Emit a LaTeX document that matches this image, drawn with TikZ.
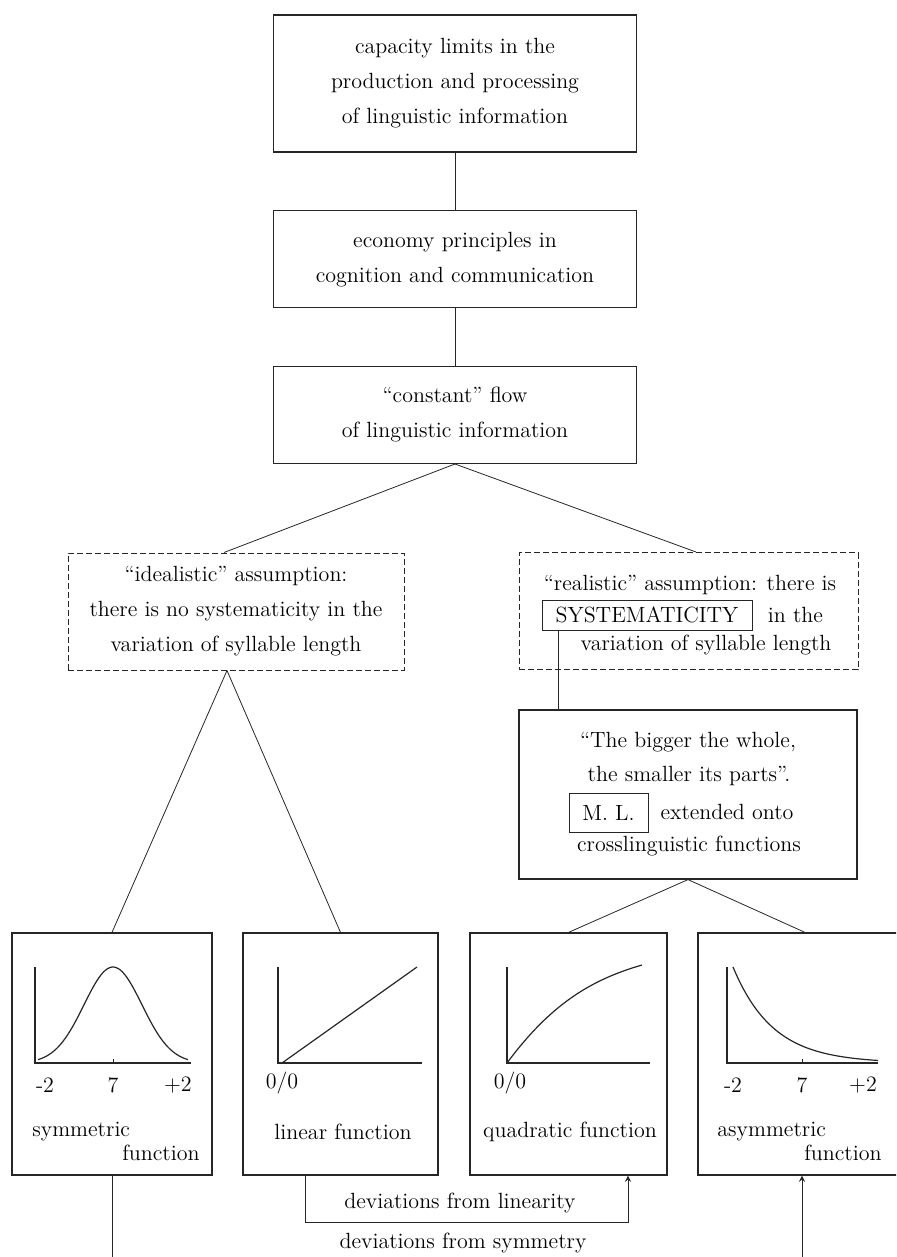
\documentclass[tikz,border=0pt]{standalone}
\usepackage{tikz}
\usetikzlibrary{positioning}
\def\boxfont{\fontsize{11}{17.5}\selectfont}

\begin{document}
\begin{tikzpicture}[x=0.5pt,y=-0.5pt,draw=black!85,>=stealth,node distance=28.75pt]
    \tikzstyle{every node}=[font=\boxfont]
    \tikzstyle{stage}=[draw, rectangle, align=center, minimum width=181.5pt, line width=0.6pt, inner sep=0pt]
    \tikzstyle{assumption}=[stage, dash pattern=on 3pt off 1.5pt, line width=0.5pt, minimum width=168pt, minimum height=58.5pt]
    \tikzstyle{plot box}=[draw, rectangle, minimum width=98pt, minimum height=121pt, line width=0.6pt]
    \tikzstyle{tag}=[draw, rectangle, inner sep=0pt, line width=0.5pt]
    \tikzstyle{curve}=[line width=0.6pt]

    \useasboundingbox (0,0) rectangle (896,1257);
    \clip (0,0) rectangle (896,1257);

    % Draw the chain of boxes on top
    \node[stage, minimum height=68.5pt] (capacity) at (455,83.5) {capacity limits in the\\production and processing\\of linguistic information};
    \node[stage, minimum height=48.5pt, below=of capacity] (economy) {economy principles in\\cognition and communication};
    \node[stage, minimum height=48.5pt, below=of economy] (flow) {``constant'' flow\\of linguistic information};

    % Draw the two assumptions
    \node[assumption] (ideal) at (236,611.5) {``idealistic'' assumption:\\there is no systematicity in the\\variation of syllable length};
    \node[assumption, minimum width=169.5pt] (real) at (688.5,611) {};
    \node (real-1) at (690,585) {``realistic'' assumption: there is};
    \node[tag, minimum width=105pt, minimum height=15pt] (syst) at (647,615) {SYSTEMATICITY};
    \node (real-2) at (795.5,615) {in the};
    \node (real-3) at (706,645) {variation of syllable length};

    % Draw the principle box
    \node[stage, minimum width=169pt, minimum height=84.5pt] (principle) at (688,794.5) {};
    \node (principle-1) at (688,742) {``The bigger the whole,};
    \node (principle-2) at (689,776) {the smaller its parts''.};
    \node[tag, minimum width=39.5pt, minimum height=19.5pt] (ml) at (608.5,812.5) {M.~L.};
    \node (principle-3) at (727,812) {extended onto};
    \node (principle-4) at (689,846) {crosslinguistic functions};

    % Draw the four function boxes
    \node[plot box, minimum width=100pt] (symm) at (112,1054) {};
    \node[plot box, minimum width=97.5pt] (lin) at (340.5,1054) {};
    \node[plot box, minimum width=98.5pt] (quad) at (568.5,1054) {};
    \node[plot box, minimum width=100pt] (asym) at (798,1054) {};

    % symmetric
    \draw[curve] (35,967) -- (35,1063) -- (191,1063);
    \draw[curve] plot[domain=38:188, samples=70, smooth] (\x, {1063-96*exp(-((\x-113)/41)*((\x-113)/41))});
    \draw (113,1063) -- (113,1059);
    \node (symm-a) at (45,1085) {-2};
    \node (symm-b) at (113,1085) {7};
    \node (symm-c) at (178,1085) {+2};
    \node[anchor=west, inner sep=0pt] (symm-1) at (32,1132) {symmetric};
    \node[anchor=east, inner sep=0pt] (symm-2) at (200,1153) {function};

    % linear
    \draw[curve] (278,967) -- (278,1063) -- (422,1063);
    \draw[curve] (282,1063) -- (417,967);
    \node (lin-a) at (282,1083) {0/0};
    \node (lin-1) at (343,1132) {linear function};

    % quadratic
    \draw[curve] (507,967) -- (507,1063) -- (650,1063);
    \draw[curve] (507,1063) .. controls (550,1005) and (590,980) .. (642,965);
    \node (quad-a) at (510,1083) {0/0};
    \node (quad-1) at (570,1132) {quadratic function};

    % asymmetric
    \draw[curve] (727,967) -- (727,1063) -- (878,1063);
    \draw[curve] plot[domain=733:878, samples=50, smooth] (\x, {1063-96*exp(-(\x-733)/40)});
    \draw (802,1063) -- (802,1059);
    \node (asym-a) at (733,1085) {-2};
    \node (asym-b) at (802,1085) {7};
    \node (asym-c) at (863,1085) {+2};
    \node[anchor=west, inner sep=0pt] (asym-1) at (717,1132) {asymmetric};
    \node[anchor=east, inner sep=0pt] (asym-2) at (882,1153) {function};

    % Connect the boxes
    \draw (capacity) -- (economy);
    \draw (economy) -- (flow);
    \draw (flow.south) -- ([xshift=-6pt]ideal.north);
    \draw (flow.south) -- ([xshift=3.75pt]real.north);
    \draw ([xshift=-4.5pt]ideal.south) -- (symm.north);
    \draw ([xshift=-4.5pt]ideal.south) -- (lin.north);
    \coordinate (syst-foot) at ([xshift=-44.5pt]syst.south);
    \draw (syst-foot) -- (syst-foot |- principle.north);
    \draw (principle.south) -- (quad.north);
    \draw (principle.south) -- ([xshift=3.5pt]asym.north);

    % Deviations
    \draw[->] ([xshift=-17.75pt]lin.south) -- ++(0,47) -| ([xshift=29.75pt]quad.south);
    \node (linearity) at (460,1203) {deviations from linearity};
    \draw[->] (symm.south) -- ++(0,100) -| ([xshift=2pt]asym.south);
    \node (symmetry) at (463,1243) {deviations from symmetry};
\end{tikzpicture}
\end{document}
